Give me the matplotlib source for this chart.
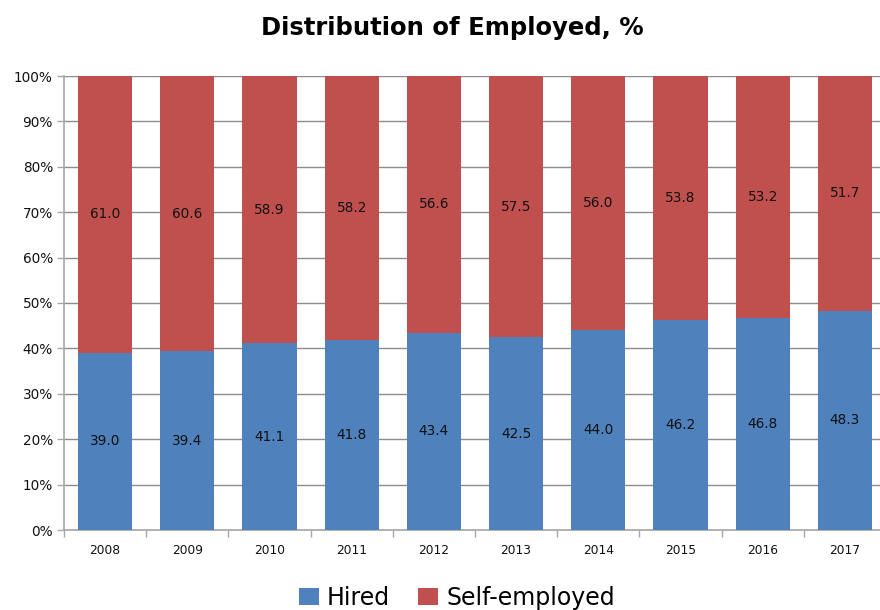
import matplotlib
matplotlib.use("Agg")
import matplotlib.pyplot as plt
from matplotlib.ticker import FixedLocator, PercentFormatter
from matplotlib.patches import Patch
import numpy as np

years = ["2008", "2009", "2010", "2011", "2012", "2013", "2014", "2015", "2016", "2017"]
hired = [39.0, 39.4, 41.1, 41.8, 43.4, 42.5, 44.0, 46.2, 46.8, 48.3]
self_employed = [61.0, 60.6, 58.9, 58.2, 56.6, 57.5, 56.0, 53.8, 53.2, 51.7]

BLUE = "#4F81BD"
RED = "#C0504D"
GRID = "#8C8C8C"
AXIS = "#A6A6A6"

fig = plt.figure(figsize=(8.8, 6.1), dpi=100)
ax = fig.add_axes([64 / 880, 80 / 610, 822 / 880, 454 / 610])

x = np.arange(len(years))
width = 0.66
ax.bar(x, hired, width, color=BLUE, zorder=3)
ax.bar(x, self_employed, width, bottom=hired, color=RED, zorder=3)

label_font = dict(fontsize=9.8, family="DejaVu Sans", color="#111111",
                  ha="center", va="center", zorder=4)
for xi, h, s in zip(x, hired, self_employed):
    ax.text(xi, h / 2, f"{h:.1f}", **label_font)
    ax.text(xi, h + s / 2, f"{s:.1f}", **label_font)

ax.set_xlim(-0.5, len(years) - 0.5)
ax.set_ylim(0, 100)

ax.yaxis.set_major_locator(FixedLocator(np.arange(0, 101, 10)))
ax.yaxis.set_major_formatter(PercentFormatter(decimals=0))
ax.grid(axis="y", color=GRID, linewidth=1.0, zorder=0)

ax.set_xticks(x)
ax.set_xticklabels(years)
ax.xaxis.set_minor_locator(FixedLocator(np.arange(-0.5, len(years), 1.0)))
ax.tick_params(axis="x", which="major", length=0, pad=10, labelsize=8.8)
ax.tick_params(axis="x", which="minor", length=5, color=AXIS, width=1)
ax.tick_params(axis="y", length=5, color=AXIS, width=1, labelsize=9.8, pad=3)
for lbl in ax.get_xticklabels() + ax.get_yticklabels():
    lbl.set_family("DejaVu Sans")
    lbl.set_color("#111111")

for side in ("top", "right"):
    ax.spines[side].set_visible(False)
ax.spines["left"].set_color(AXIS)
ax.spines["bottom"].set_color(AXIS)
ax.spines["left"].set_linewidth(1.2)
ax.spines["bottom"].set_linewidth(1.2)
ax.axhline(100, color="#BFBFBF", linewidth=1.5, zorder=1)

fig.text(452 / 880, 1 - 28 / 610, "Distribution of Employed, %",
         ha="center", va="center", fontsize=17.5, fontweight="bold",
         family="DejaVu Sans")

handles = [Patch(facecolor=BLUE, edgecolor="none", label="Hired"),
           Patch(facecolor=RED, edgecolor="none", label="Self-employed")]
fig.legend(handles=handles, loc="center", bbox_to_anchor=(457 / 880, 1 - 598 / 610),
           ncol=2, frameon=False, prop=dict(family="DejaVu Sans", size=17),
           handlelength=0.85, handleheight=0.75, handletextpad=0.35,
           columnspacing=1.2)

fig.savefig("out.png", dpi=100)
